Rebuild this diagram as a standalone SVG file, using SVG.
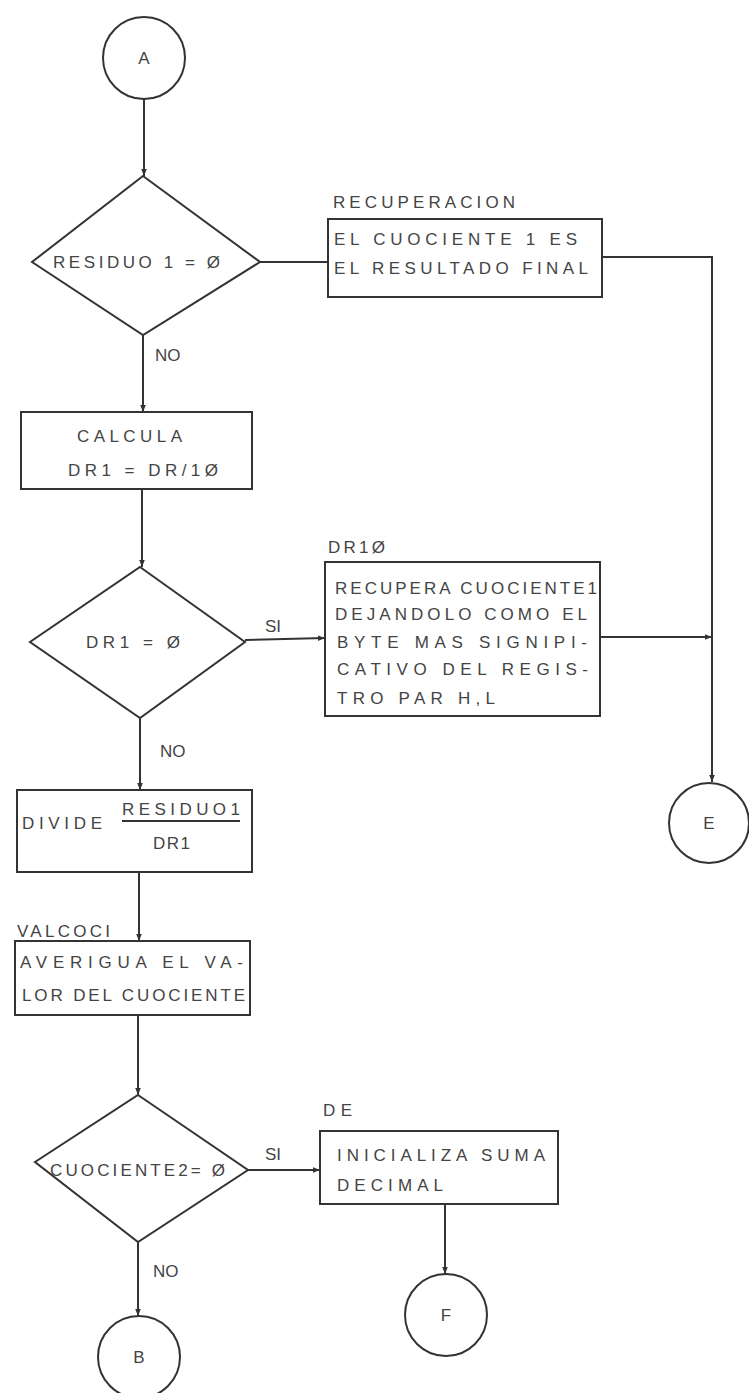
<svg xmlns="http://www.w3.org/2000/svg" width="749" height="1393" viewBox="0 0 749 1393">
<style>
.s{fill:#fff;stroke:#333;stroke-width:2}
.c{fill:none;stroke:#333;stroke-width:2}
text{font-family:"Liberation Sans","DejaVu Sans",sans-serif;font-size:17px;fill:#444}
.m{text-anchor:middle}
</style>
<defs>
<marker id="ar" viewBox="0 0 10 10" refX="10" refY="5" markerWidth="7" markerHeight="11" orient="auto" markerUnits="userSpaceOnUse">
<path d="M0,1 L10,5 L0,9 Z" fill="#333"/>
</marker>
</defs>
<rect width="749" height="1393" fill="#fff"/>
<g id="connectors">
<line class="c" x1="144" y1="99" x2="144" y2="176" marker-end="url(#ar)"/>
<line class="c" x1="260" y1="262" x2="328" y2="262"/>
<polyline class="c" points="602,257 712,257 712,782" marker-end="url(#ar)"/>
<line class="c" x1="143" y1="335" x2="143" y2="412" marker-end="url(#ar)"/>
<line class="c" x1="142" y1="489" x2="142" y2="567" marker-end="url(#ar)"/>
<line class="c" x1="245" y1="640" x2="325" y2="638" marker-end="url(#ar)"/>
<line class="c" x1="600" y1="637" x2="712" y2="637" marker-end="url(#ar)"/>
<line class="c" x1="140" y1="718" x2="140" y2="790" marker-end="url(#ar)"/>
<line class="c" x1="139" y1="872" x2="139" y2="941" marker-end="url(#ar)"/>
<line class="c" x1="138" y1="1015" x2="138" y2="1095" marker-end="url(#ar)"/>
<line class="c" x1="248" y1="1170" x2="320" y2="1170" marker-end="url(#ar)"/>
<line class="c" x1="445" y1="1204" x2="445" y2="1274" marker-end="url(#ar)"/>
<line class="c" x1="138" y1="1242" x2="138" y2="1316" marker-end="url(#ar)"/>
<text x="155" y="361">NO</text>
<text x="265" y="632">SI</text>
<text x="160" y="757">NO</text>
<text x="265" y="1160">SI</text>
<text x="153" y="1277">NO</text>
</g>
<g id="A">
<circle class="s" cx="144" cy="58" r="41"/>
<text class="m" x="144" y="64">A</text>
</g>
<g id="residuo">
<polygon class="s" points="143,176 260,262 143,335 32,262"/>
<text x="53" y="268" textLength="167" lengthAdjust="spacing">RESIDUO 1 = Ø</text>
</g>
<g id="recuperacion">
<text x="333" y="208" textLength="182" lengthAdjust="spacing">RECUPERACION</text>
<rect class="s" x="328" y="219" width="274" height="78"/>
<text x="334" y="245" textLength="243" lengthAdjust="spacing">EL CUOCIENTE 1  ES</text>
<text x="334" y="274" textLength="254" lengthAdjust="spacing">EL RESULTADO FINAL</text>
</g>
<g id="calcula">
<rect class="s" x="21" y="412" width="231" height="77"/>
<text x="77" y="442" textLength="105" lengthAdjust="spacing">CALCULA</text>
<text x="68" y="476" textLength="150" lengthAdjust="spacing">DR1  = DR/1Ø</text>
</g>
<g id="dr1">
<polygon class="s" points="140,567 245,642 140,718 30,642"/>
<text x="86" y="648" textLength="94" lengthAdjust="spacing">DR1 = Ø</text>
</g>
<g id="dr10">
<text x="328" y="553" textLength="57" lengthAdjust="spacing">DR1Ø</text>
<rect class="s" x="325" y="562" width="275" height="154"/>
<text x="335" y="594" textLength="262" lengthAdjust="spacing">RECUPERA CUOCIENTE1</text>
<text x="335" y="620" textLength="252" lengthAdjust="spacing">DEJANDOLO COMO EL</text>
<text x="337" y="648" textLength="250" lengthAdjust="spacing">BYTE  MAS SIGNIPI-</text>
<text x="337" y="675" textLength="251" lengthAdjust="spacing">CATIVO  DEL REGIS-</text>
<text x="337" y="704" textLength="158" lengthAdjust="spacing">TRO PAR  H,L</text>
</g>
<g id="E">
<circle class="s" cx="709" cy="823" r="40"/>
<text class="m" x="709" y="829">E</text>
</g>
<g id="divide">
<rect class="s" x="17" y="790" width="235" height="82"/>
<text x="22" y="829" textLength="80" lengthAdjust="spacing">DIVIDE</text>
<text x="122" y="815" textLength="118" lengthAdjust="spacing">RESIDUO1</text>
<line class="c" x1="122" y1="821" x2="240" y2="821" stroke-width="1.5"/>
<text x="153" y="849" textLength="37" lengthAdjust="spacing">DR1</text>
</g>
<g id="valcoci">
<text x="17" y="937" textLength="93" lengthAdjust="spacing">VALCOCI</text>
<rect class="s" x="15" y="941" width="235" height="74"/>
<text x="20" y="968" textLength="223" lengthAdjust="spacing">AVERIGUA EL VA-</text>
<text x="22" y="1001" textLength="223" lengthAdjust="spacing">LOR DEL CUOCIENTE</text>
</g>
<g id="cuociente2">
<polygon class="s" points="138,1095 248,1170 138,1242 35,1162"/>
<text x="50" y="1176" textLength="175" lengthAdjust="spacing">CUOCIENTE2= Ø</text>
</g>
<g id="de">
<text x="323" y="1116" textLength="29" lengthAdjust="spacing">DE</text>
<rect class="s" x="320" y="1131" width="238" height="73"/>
<text x="337" y="1161" textLength="208" lengthAdjust="spacing">INICIALIZA SUMA</text>
<text x="337" y="1191" textLength="106" lengthAdjust="spacing">DECIMAL</text>
</g>
<g id="F">
<circle class="s" cx="446" cy="1315" r="41"/>
<text class="m" x="446" y="1321">F</text>
</g>
<g id="B">
<circle class="s" cx="139" cy="1357" r="41"/>
<text class="m" x="139" y="1363">B</text>
</g>
</svg>
